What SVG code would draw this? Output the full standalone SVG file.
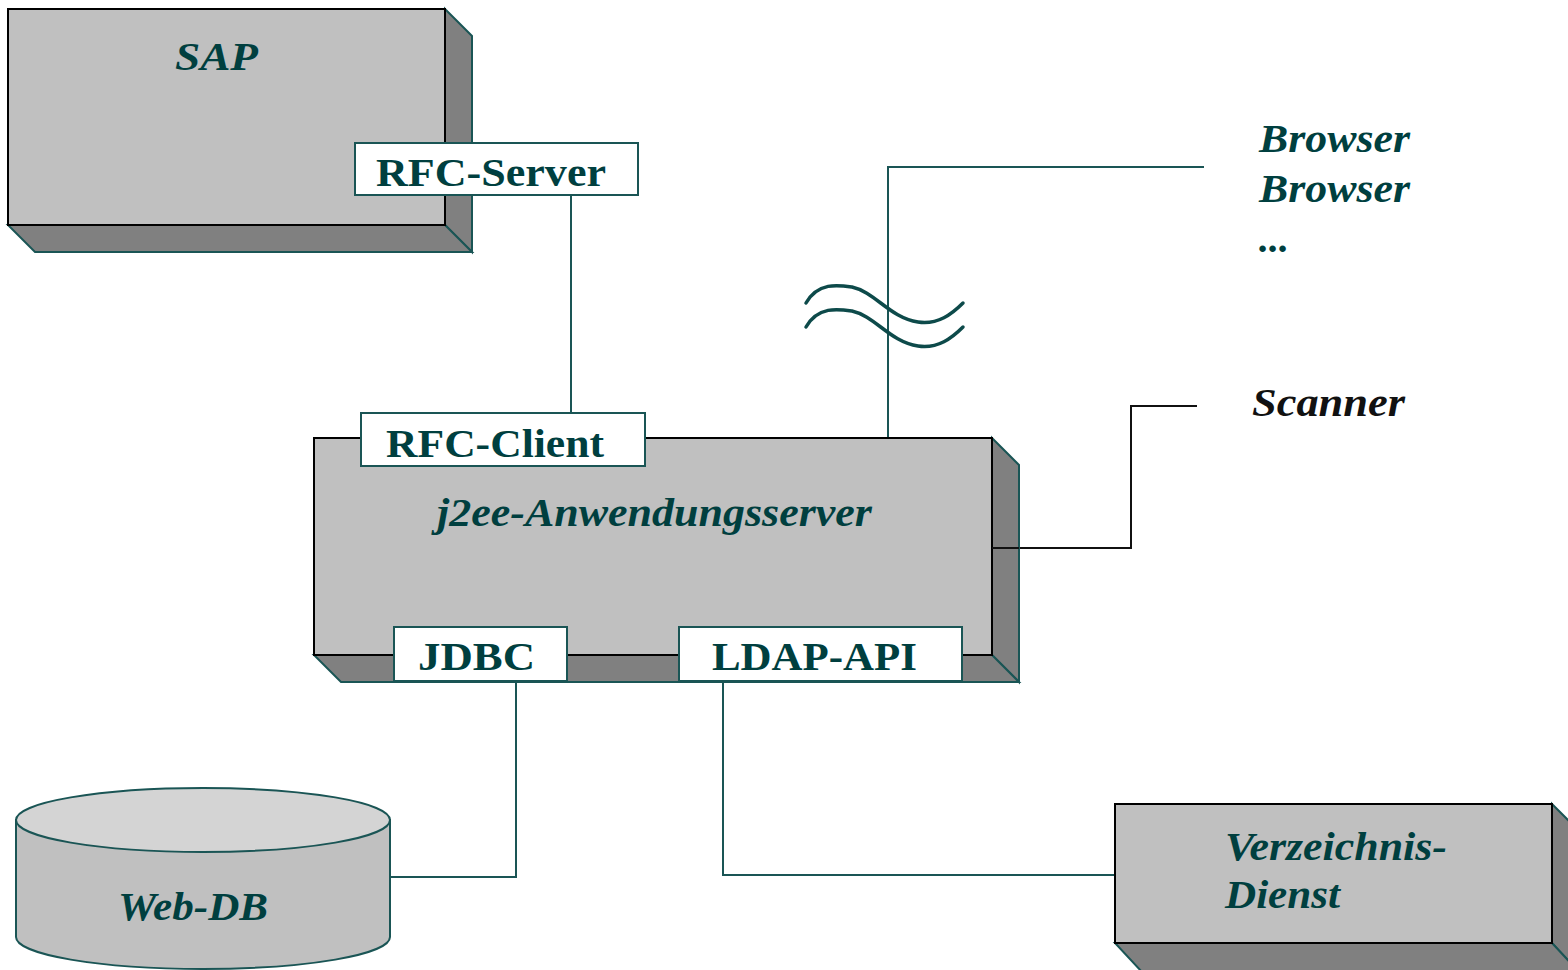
<svg xmlns="http://www.w3.org/2000/svg" width="1568" height="970" viewBox="0 0 1568 970">
<style>
.face{fill:#c0c0c0;stroke:#000;stroke-width:2}
.side{fill:#808080;stroke:#1a5555;stroke-width:2;stroke-linejoin:miter}
.port{fill:#fff;stroke:#1a5555;stroke-width:2}
.lbl{font-family:"Liberation Serif","Times New Roman",serif;font-weight:bold;font-size:40px;fill:#003f3f}
.ital{font-family:"Liberation Serif","Times New Roman",serif;font-weight:bold;font-style:italic;font-size:40px;fill:#003f3f}
.conn{fill:none;stroke:#1a5555;stroke-width:2}
.connb{fill:none;stroke:#111;stroke-width:2}
.wave{fill:none;stroke:#0d4a4a;stroke-width:3.5;stroke-linecap:round}
</style>
<rect width="1568" height="970" fill="#fff"/>
<g id="connectors">
<path class="conn" d="M571,195 V413"/>
<path class="conn" d="M888,438 V167 H1204"/>
<path class="connb" d="M992,548 H1131 V406 H1197"/>
<path class="conn" d="M516,681 V877 H390"/>
<path class="conn" d="M723,681 V875 H1115"/>
<path class="wave" d="M806,303 C818,282 838,285 852,287 C875,292 890,318 918,322 C938,325 952,314 963,303"/>
<path class="wave" d="M806,327 C818,306 838,309 852,311 C875,316 890,342 918,346 C938,349 952,338 963,327"/>
</g>
<g id="sap">
<polygon class="side" points="445,9 472,36 472,252 445,225"/>
<polygon class="side" points="8,225 445,225 472,252 35,252"/>
<rect class="face" x="8" y="9" width="437" height="216"/>
<text class="ital" x="175" y="70" textLength="83" lengthAdjust="spacingAndGlyphs">SAP</text>
</g>
<g id="rfc-server">
<rect class="port" x="355" y="143" width="283" height="52"/>
<text class="lbl" x="376" y="186" textLength="230" lengthAdjust="spacingAndGlyphs">RFC-Server</text>
</g>
<g id="j2ee">
<polygon class="side" points="992,438 1019,465 1019,682 992,655"/>
<polygon class="side" points="314,655 992,655 1019,682 341,682"/>
<rect class="face" x="314" y="438" width="678" height="217"/>
<text class="ital" x="437" y="526" textLength="435" lengthAdjust="spacingAndGlyphs">j2ee-Anwendungsserver</text>
</g>
<path class="connb" d="M992,548 H1019"/>
<g id="rfc-client">
<rect class="port" x="361" y="413" width="284" height="53"/>
<text class="lbl" x="386" y="457" textLength="218" lengthAdjust="spacingAndGlyphs">RFC-Client</text>
</g>
<g id="jdbc">
<rect class="port" x="394" y="627" width="173" height="54"/>
<text class="lbl" x="418" y="670" textLength="117" lengthAdjust="spacingAndGlyphs">JDBC</text>
</g>
<g id="ldap-api">
<rect class="port" x="679" y="627" width="283" height="54"/>
<text class="lbl" x="712" y="670" textLength="205" lengthAdjust="spacingAndGlyphs">LDAP-API</text>
</g>
<g id="browser">
<text class="ital" x="1259" y="152" textLength="151" lengthAdjust="spacingAndGlyphs">Browser</text>
<text class="ital" x="1259" y="202" textLength="151" lengthAdjust="spacingAndGlyphs">Browser</text>
<text class="ital" x="1259" y="252">...</text>
</g>
<g id="scanner">
<text class="ital" x="1252" y="416" fill="#111" style="fill:#111" textLength="153" lengthAdjust="spacingAndGlyphs">Scanner</text>
</g>
<g id="web-db">
<path d="M16,820 V937 A187,32 0 0 0 390,937 V820 Z" fill="#c0c0c0" stroke="#1a5555" stroke-width="2"/>
<ellipse cx="203" cy="820" rx="187" ry="32" fill="#d4d4d4" stroke="#1a5555" stroke-width="2"/>
<text class="ital" x="118" y="920" textLength="150" lengthAdjust="spacingAndGlyphs">Web-DB</text>
</g>
<g id="verzeichnis">
<polygon class="side" points="1552,804 1579,831 1579,972 1552,943"/>
<polygon class="side" points="1115,943 1552,943 1579,972 1142,972"/>
<rect class="face" x="1115" y="804" width="437" height="139"/>
<text class="ital" x="1225" y="860" textLength="222" lengthAdjust="spacingAndGlyphs">Verzeichnis-</text>
<text class="ital" x="1225" y="908" textLength="115" lengthAdjust="spacingAndGlyphs">Dienst</text>
</g>
</svg>
